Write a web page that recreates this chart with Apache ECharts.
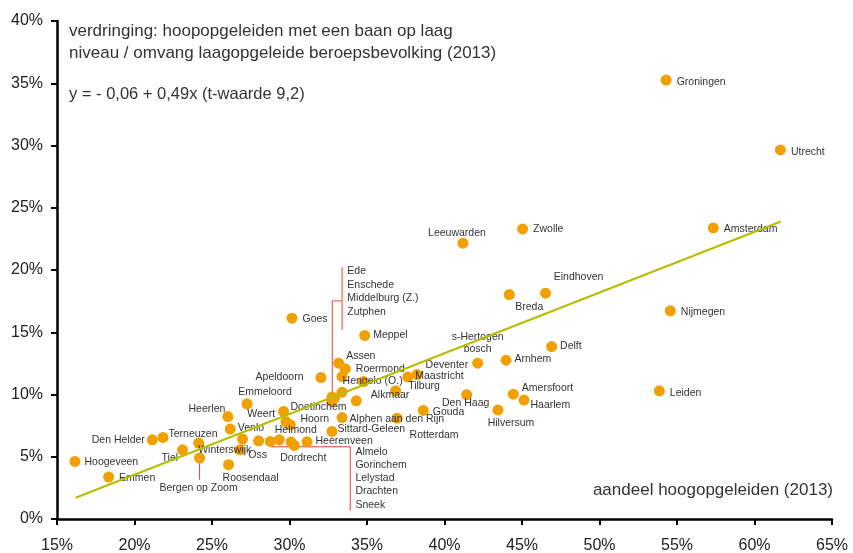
<!DOCTYPE html>
<html>
<head>
<meta charset="utf-8">
<script src="https://cdn.jsdelivr.net/npm/echarts/dist/echarts.min.js"></script>
<style>
  html, body { margin: 0; padding: 0; background: #fff; }
  #chart { width: 853px; height: 553px; }
</style>
</head>
<body>
<div id="chart"></div>
<script>
// gemeenten, aandeel hoogopgeleiden (x, %) en verdringing (y, %)
const cities = [
  'Groningen', 'Utrecht', 'Amsterdam', 'Nijmegen', 'Leiden', 'Zwolle', 'Leeuwarden', 'Breda',
  'Eindhoven', 'Delft', 'Arnhem', 's-Hertogenbosch', 'Amersfoort', 'Haarlem', 'Den Haag', 'Hilversum',
  'Gouda', 'Rotterdam', 'Tilburg', 'Maastricht', 'Deventer', 'Alkmaar', 'Alphen aan den Rijn', 'Sittard-Geleen',
  'Heerenveen', 'Dordrecht', 'Hoorn', 'Helmond', 'Weert', 'Doetinchem', 'Emmeloord', 'Heerlen',
  'Venlo', 'Oss', 'Winterswijk', 'Roosendaal', 'Bergen op Zoom', 'Tiel', 'Terneuzen', 'Den Helder',
  'Emmen', 'Hoogeveen', 'Meppel', 'Goes', 'Apeldoorn', 'Assen', 'Roermond', 'Hengelo (O.)',
  'Ede', 'Enschede', 'Middelburg (Z.)', 'Zutphen', 'Almelo', 'Gorinchem', 'Lelystad', 'Drachten', 'Sneek'
];
const aandeel = [
  54.3, 61.67, 57.34, 54.57, 53.86, 45.04, 41.19, 44.18,
  46.52, 46.91, 43.97, 42.14, 44.44, 45.13, 41.43, 43.45,
  38.63, 36.94, 36.85, 37.63, 38.23, 34.31, 33.39, 32.74,
  31.13, 30.31, 29.77, 30.05, 29.62, 32.74, 27.26, 26.02,
  26.18, 26.79, 24.14, 26.07, 24.2, 23.1, 21.84, 21.15,
  18.33, 16.16, 34.85, 30.16, 32.03, 33.17, 33.6, 33.39,
  32.74, 33.39, 34.78, 32.9, 28.76, 29.34, 30.1, 28.01, 26.97
];
const verdringing = [
  35.26, 29.64, 23.38, 16.72, 10.3, 23.3, 22.15, 18.03,
  18.14, 13.85, 12.76, 12.52, 10.03, 9.55, 9.98, 8.75,
  8.72, 8.1, 10.3, 11.4, 11.6, 9.49, 8.15, 7.03,
  6.2, 5.91, 7.83, 7.57, 8.64, 9.44, 9.25, 8.23,
  7.22, 5.56, 6.1, 4.36, 4.9, 5.56, 6.55, 6.36,
  3.37, 4.62, 14.74, 16.13, 11.36, 12.52, 12.06, 11.44,
  9.79, 10.19, 11.04, 9.7, 6.23, 6.36, 6.18, 6.28, 6.42
];

// regressielijn y = -0,06 + 0,49x
const trendX = [16.2, 61.7];
const trendY = [1.7, 23.9];

const xTicks = [15, 20, 25, 30, 35, 40, 45, 50, 55, 60, 65];
const yTicks = [0, 5, 10, 15, 20, 25, 30, 35, 40];

// groepjes met een gezamenlijk label
const groupEde = ['Ede', 'Enschede', 'Middelburg (Z.)', 'Zutphen'];
const groupAlmelo = ['Almelo', 'Gorinchem', 'Lelystad', 'Drachten', 'Sneek'];

// label plaatsing: [positie, dx, dy]
const labelPlace = {
  'Groningen': ['right', 0, 2], 'Utrecht': ['right', 0, 2], 'Amsterdam': ['right', 0, 1],
  'Nijmegen': ['right', 0, 1], 'Leiden': ['right', 0, 2], 'Zwolle': ['right', 0, 0],
  'Leeuwarden': ['top', -6, 6], 'Breda': ['bottom', 20, -4], 'Eindhoven': ['top', 33, 0],
  'Delft': ['right', -2, 0], 'Arnhem': ['right', -2, -1], 's-Hertogenbosch': ['top', 0, 2],
  'Amersfoort': ['right', -2, -6], 'Haarlem': ['right', -4, 5], 'Den Haag': ['bottom', -1, -8],
  'Hilversum': ['bottom', 13, -3], 'Gouda': ['right', -1, 2], 'Rotterdam': ['bottom', 37, 0],
  'Tilburg': ['right', 2, -5], 'Maastricht': ['right', -3, -1], 'Deventer': ['right', -2, -9],
  'Alkmaar': ['right', 4, -6], 'Alphen aan den Rijn': ['right', -3, 2], 'Sittard-Geleen': ['right', -5, -2],
  'Heerenveen': ['right', -2, -1], 'Dordrecht': ['bottom', 9, -4], 'Hoorn': ['right', 4, -2],
  'Helmond': ['right', -26, 5], 'Weert': ['left', 2, 3], 'Doetinchem': ['right', -52, 6],
  'Emmeloord': ['top', 18, 5], 'Heerlen': ['left', 8, -7], 'Venlo': ['right', -3, -1],
  'Oss': ['right', -2, 5], 'Winterswijk': ['right', -11, 7], 'Roosendaal': ['bottom', 22, -3],
  'Bergen op Zoom': ['bottom', -1, 14], 'Tiel': ['left', 6, 8], 'Terneuzen': ['right', -5, -3],
  'Den Helder': ['left', 3, 0], 'Emmen': ['right', 0, 1], 'Hoogeveen': ['right', -1, 1],
  'Meppel': ['right', -2, 0], 'Goes': ['right', 0, 1], 'Apeldoorn': ['left', -7, 0],
  'Assen': ['right', -3, -7], 'Roermond': ['right', 0, 0], 'Hengelo (O.)': ['right', -10, 5]
};
const labelText = { 's-Hertogenbosch': 's-Hertogen\nbosch' };

const font = "'Liberation Sans', Arial, sans-serif";
const textColor = '#333';
const red = '#e2432f';

const points = cities.map((c, i) => {
  const p = labelPlace[c];
  const item = { name: c, value: [aandeel[i], verdringing[i]] };
  if (p) {
    item.label = {
      show: true, position: p[0], offset: [p[1], p[2]],
      formatter: labelText[c] || c
    };
  }
  return item;
});

const chart = echarts.init(document.getElementById('chart'));
chart.setOption({
  animation: false,
  backgroundColor: '#fff',
  textStyle: { fontFamily: font },
  grid: { left: 57, right: 21, top: 21, bottom: 34, containLabel: false, outerBoundsMode: 'none' },
  xAxis: {
    type: 'value', min: xTicks[0], max: xTicks[xTicks.length - 1], interval: 5,
    splitLine: { show: false },
    axisLine: { lineStyle: { color: '#000', width: 2.5 } },
    axisTick: { length: 6, lineStyle: { color: '#000', width: 2 } },
    axisLabel: { formatter: '{value}%', color: '#222', fontSize: 16, margin: 19, fontFamily: font }
  },
  yAxis: {
    type: 'value', min: yTicks[0], max: yTicks[yTicks.length - 1], interval: 5,
    splitLine: { show: false },
    axisLine: { show: true, lineStyle: { color: '#000', width: 2.5 } },
    axisTick: { show: true, length: 6, lineStyle: { color: '#000', width: 2 } },
    axisLabel: { formatter: '{value}%', color: '#222', fontSize: 16, margin: 14, fontFamily: font }
  },
  graphic: [
    { type: 'text', left: 69, top: 23, style: { text: 'verdringing: hoopopgeleiden met een baan op laag', font: '17px ' + font, fill: textColor } },
    { type: 'text', left: 69, top: 45, style: { text: 'niveau / omvang laagopgeleide beroepsbevolking (2013)', font: '17px ' + font, fill: textColor } },
    { type: 'text', left: 69, top: 86, style: { text: 'y = - 0,06 + 0,49x (t-waarde 9,2)', font: '16.5px ' + font, fill: textColor } },
    { type: 'text', right: 20, top: 482, style: { text: 'aandeel hoogopgeleiden (2013)', font: '17px ' + font, fill: textColor } }
  ],
  series: [
    {
      type: 'line', silent: true, symbol: 'none', z: 1,
      lineStyle: { color: red, width: 1 },
      data: [[32.76, 9.82], [32.76, 17.52], [33.4, 17.52]]
    },
    {
      type: 'line', silent: true, symbol: 'none', z: 1,
      lineStyle: { color: '#ee9c8f', width: 2 },
      data: [[33.4, 20.24], [33.4, 15.2]]
    },
    {
      type: 'line', silent: true, symbol: 'none', z: 1,
      lineStyle: { color: red, width: 1 },
      data: [[28.76, 5.8], [33.92, 5.8], [33.92, 0.67]]
    },
    {
      type: 'line', silent: true, symbol: 'none', z: 1,
      lineStyle: { color: red, width: 1 },
      data: [[24.2, 4.6], [24.2, 3.15]]
    },
    {
      type: 'scatter', symbolSize: 11, z: 2,
      itemStyle: { color: '#f0a000', opacity: 1 },
      label: { show: false, color: textColor, fontSize: 10.5, fontFamily: font, distance: 5, lineHeight: 12 },
      data: points
    },
    {
      type: 'scatter', symbolSize: 0, silent: true, z: 3,
      itemStyle: { opacity: 1 },
      label: { show: true, position: 'right', distance: 0, color: textColor, fontSize: 10.5, fontFamily: font },
      data: [
        { value: [33.73, 18.28], label: { formatter: groupEde.join('\n'), lineHeight: 13.6 } },
        { value: [34.25, 3.27], label: { formatter: groupAlmelo.join('\n'), lineHeight: 13.2 } }
      ]
    },
    {
      type: 'line', silent: true, symbol: 'none', z: 4,
      lineStyle: { color: '#b7bd00', width: 2.2 },
      data: trendX.map((x, i) => [x, trendY[i]])
    }
  ]
});
</script>
</body>
</html>
